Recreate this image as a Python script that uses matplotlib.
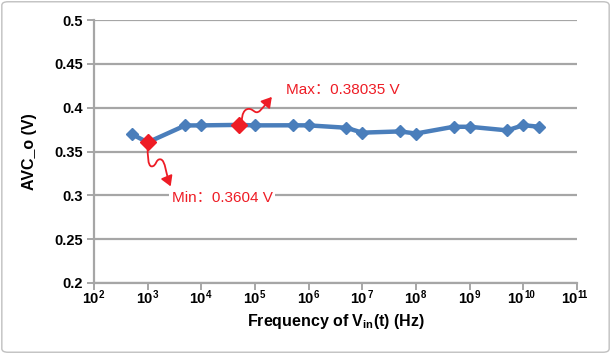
import matplotlib
matplotlib.use("Agg")
import matplotlib.pyplot as plt
from matplotlib.path import Path
from matplotlib.patches import FancyArrowPatch, FancyBboxPatch
from matplotlib.transforms import Affine2D

plt.rcParams['font.family'] = ['Liberation Sans', 'Noto Sans CJK SC', 'DejaVu Sans']
plt.rcParams['mathtext.default'] = 'regular'

# data
freq = [5e2, 1e3, 5e3, 1e4, 5e4, 1e5, 5e5, 1e6, 5e6, 1e7,
        5e7, 1e8, 5e8, 1e9, 5e9, 1e10, 2e10]
avc = [0.370, 0.3604, 0.3797, 0.3798, 0.38035, 0.3798, 0.3799, 0.3798, 0.3771, 0.3715,
       0.3729, 0.3705, 0.3782, 0.3782, 0.3741, 0.3800, 0.3782]
min_idx = 1
max_idx = 4
yticks = [0.2, 0.25, 0.3, 0.35, 0.4, 0.45, 0.5]
ytick_labels = ['0.2', '0.25', '0.3', '0.35', '0.4', '0.45', '0.5']
xexp = list(range(2, 12))

blue = '#4A7EBB'
red = '#EE1C25'
grey = '#A6A6A6'

fig = plt.figure(figsize=(6.11, 3.54), dpi=100)
ax = fig.add_axes([94 / 611, 1 - 283 / 354, (577 - 94) / 611, (283 - 20) / 354])

# rounded frame around the whole chart
fig.patches.append(FancyBboxPatch((0.003, 0.005), 0.994, 0.99,
                                  boxstyle='round,pad=0,rounding_size=0.01',
                                  transform=fig.transFigure, fc='none',
                                  ec='#C0C0C0', lw=1.0))

ax.plot(freq, avc, color=blue, lw=3.2, marker='D', ms=6.5, mfc=blue, mec=blue, zorder=3)
ax.plot([freq[min_idx], freq[max_idx]], [avc[min_idx], avc[max_idx]], ls='none',
        marker='D', ms=8, mfc=red, mec=red, zorder=4)

ax.set_xscale('log')
ax.set_xlim(1e2, 1e11)
ax.set_ylim(0.2, 0.5)
ax.set_yticks(yticks)
ax.set_yticklabels(ytick_labels, fontweight='bold', fontsize=10.5)
ax.set_xticks([10.0 ** e for e in xexp])
ax.set_xticklabels([''] * len(xexp))
ax.xaxis.set_minor_locator(matplotlib.ticker.NullLocator())
ax.yaxis.grid(True, color=grey, lw=1.6)
ax.set_axisbelow(True)
for s in ['top', 'right']:
    ax.spines[s].set_visible(False)
for s in ['left', 'bottom']:
    ax.spines[s].set_color(grey)
    ax.spines[s].set_linewidth(1.6)
ax.tick_params(axis='both', color=grey, width=1.4, length=5, pad=3)

# bold "10^n" tick labels built from two texts
for e in xexp:
    shift = 3.2 if e < 10 else 0.0
    ax.annotate('10', xy=(10.0 ** e, 0), xycoords=('data', 'axes fraction'),
                xytext=(shift, -6.5), textcoords='offset points', ha='right', va='top',
                fontsize=10.5, fontweight='bold', annotation_clip=False)
    ax.annotate(str(e), xy=(10.0 ** e, 0), xycoords=('data', 'axes fraction'),
                xytext=(shift + 0.4, -5.2), textcoords='offset points', ha='left', va='top',
                fontsize=7, fontweight='bold', annotation_clip=False)

ax.set_ylabel('AVC_o (V)', fontweight='bold', fontsize=11.5, labelpad=12)
ax.set_xlabel(r'Frequency of V$_{in}$(t) (Hz)', fontweight='bold', fontsize=11.5, labelpad=13)

# annotations
ax.text(10 ** 3.45, 0.2975, 'Min：0.3604 V', color=red, fontsize=11, va='center', ha='left',
        bbox=dict(fc='white', ec='none', pad=2))
ax.text(10 ** 5.58, 0.4205, 'Max：0.38035 V', color=red, fontsize=11, va='center', ha='left')


def squiggle(x, y, pts):
    px, py = ax.transData.transform((x, y))
    codes = [Path.MOVETO] + [Path.CURVE4] * (len(pts) - 1)
    path = Path(pts, codes)
    tr = Affine2D().scale(1, -1).translate(px, py)
    arr = FancyArrowPatch(path=path, arrowstyle='-|>,head_length=0.5,head_width=0.3',
                          mutation_scale=12, color=red, lw=1.3, transform=tr)
    fig.add_artist(arr)


squiggle(freq[min_idx], avc[min_idx],
         [(0, 4), (0, 12), (0, 24), (4, 24),
          (9, 24), (8, 16), (13, 17),
          (18, 18), (18, 32), (23, 44)])
squiggle(freq[max_idx], avc[max_idx],
         [(3, -4), (3, -10), (5, -16), (10, -16),
          (15, -16), (16, -10), (21, -14),
          (24, -17), (28, -22), (33, -28)])

fig.savefig('out.png', dpi=100)
